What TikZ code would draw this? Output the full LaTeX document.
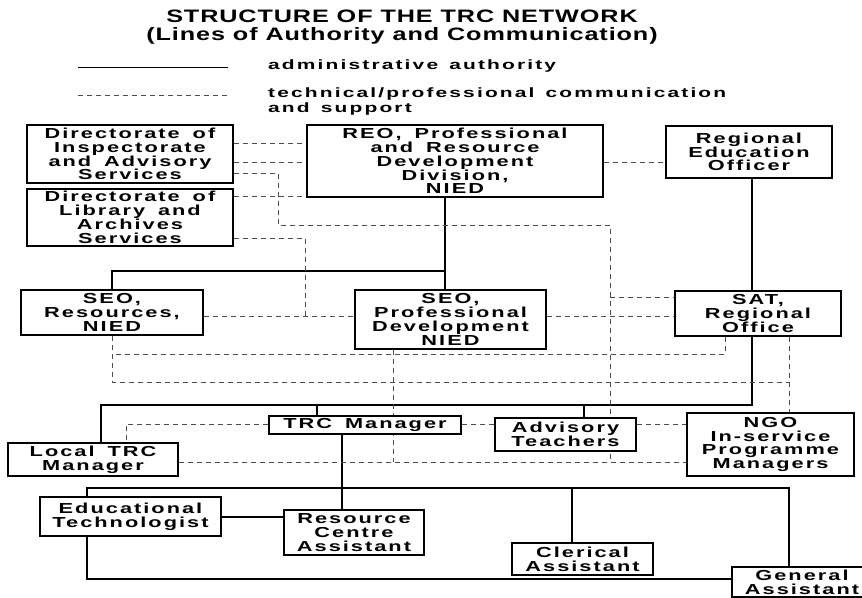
\documentclass[tikz,border=0pt]{standalone}
\usepackage{fontspec}
\newfontfamily\boxfont{Liberation Sans Bold}[FakeStretch=1.5,LetterSpace=14,WordSpace=1.6]
\newfontfamily\legfont{Liberation Sans Bold}[FakeStretch=1.55,LetterSpace=16,WordSpace=1.4]
\newfontfamily\titlefont{Liberation Sans Bold}[FakeStretch=1.4,LetterSpace=5]
\pgfdeclarelayer{bg}
\pgfsetlayers{bg,main}
\tikzset{
  box/.style={draw, line width=1.6pt, fill=white, inner sep=0pt, align=center,
    font=\boxfont\fontsize{14.5}{13.8}\selectfont},
  auth/.style={line width=1.7pt},
  comm/.style={line width=0.8pt, draw=black!70, dash pattern=on 5pt off 4pt},
  legtext/.style={inner sep=0pt, align=left, font=\legfont\fontsize{13.5}{15}\selectfont},
}
\begin{document}
\begin{tikzpicture}[x=1pt,y=-1pt]
\useasboundingbox (0,0) rectangle (862,597);
% title
\node[inner sep=0pt, align=center, font=\titlefont\fontsize{18}{18}\selectfont] (title) at (402,27)
  {STRUCTURE OF THE TRC NETWORK\\(Lines of Authority and Communication)};
% legend
\coordinate (l1a) at (78,67); \coordinate (l1b) at (228,67);
\coordinate (l2a) at (78,95); \coordinate (l2b) at (228,95);
\node[legtext, anchor=west] (leg1) at (268,66) {administrative authority};
\node[legtext, anchor=north west] (leg2) at (268,88) {technical/professional communication\\and support};
\draw[line width=0.9pt] (l1a) -- (l1b);
\draw[comm] (l2a) -- (l2b);
% boxes
\node[box, minimum width=206pt, minimum height=58pt] (dias) at (130,154) {Directorate of\\Inspectorate\\and Advisory\\Services};
\node[box, minimum width=206pt, minimum height=57pt] (dlas) at (130,217.5) {Directorate of\\Library and\\Archives\\Services};
\node[box, minimum width=296pt, minimum height=72pt] (reo) at (455,161) {REO, Professional\\and Resource\\Development\\Division,\\NIED};
\node[box, minimum width=166pt, minimum height=52pt] (reg) at (749,152) {Regional\\Education\\Officer};
\node[box, minimum width=182pt, minimum height=45pt] (seor) at (112,312.5) {SEO,\\Resources,\\NIED};
\node[box, minimum width=191pt, minimum height=59pt] (seopd) at (450.5,319.5) {SEO,\\Professional\\Development\\NIED};
\node[box, minimum width=166pt, minimum height=45pt] (sat) at (758,313.5) {SAT,\\Regional\\Office};
\node[box, minimum width=192pt, minimum height=18pt] (trc) at (365,425) {TRC Manager};
\node[box, minimum width=170pt, minimum height=33pt] (ltrc) at (93,459.5) {Local TRC\\Manager};
\node[box, minimum width=141pt, minimum height=33pt] (adv) at (565.5,434.5) {Advisory\\Teachers};
\node[box, minimum width=167pt, minimum height=63pt] (ngo) at (770.5,444.5) {NGO\\In-service\\Programme\\Managers};
\node[box, minimum width=181pt, minimum height=39pt] (edt) at (130.5,516.5) {Educational\\Technologist};
\node[box, minimum width=140pt, minimum height=45pt] (rca) at (354,532.5) {Resource\\Centre\\Assistant};
\node[box, minimum width=141pt, minimum height=32pt] (cler) at (582.5,559) {Clerical\\Assistant};
\node[box, minimum width=140pt, minimum height=30pt] (gen) at (802,582) {General\\Assistant};
% columns and rows
\coordinate (cA) at (445,0); \coordinate (cB) at (112,0); \coordinate (cC) at (752,0);
\coordinate (cD) at (101,0); \coordinate (cE) at (317,0); \coordinate (cF) at (584,0);
\coordinate (cG) at (342,0); \coordinate (cH) at (87,0); \coordinate (cI) at (572,0);
\coordinate (cJ) at (789,0); \coordinate (k278) at (278,0); \coordinate (k610) at (610,0);
\coordinate (k305) at (305,0); \coordinate (k725) at (725,0); \coordinate (k393) at (393,0);
\coordinate (k126) at (126,0);
\coordinate (r271) at (0,271); \coordinate (r405) at (0,405); \coordinate (r488) at (0,488);
\coordinate (r517) at (0,517); \coordinate (r579) at (0,579);
\coordinate (d143) at (0,143); \coordinate (d162) at (0,162); \coordinate (d173) at (0,173);
\coordinate (d225) at (0,225); \coordinate (d196) at (0,196); \coordinate (d238) at (0,238);
\coordinate (d316) at (0,316); \coordinate (d297) at (0,297); \coordinate (d354) at (0,354);
\coordinate (d382) at (0,382); \coordinate (d424) at (0,424); \coordinate (d462) at (0,462);
\begin{pgfonlayer}{bg}
% administrative authority
\draw[auth] (reo.south -| cA) -- (seopd.north -| cA);
\draw[auth] (cA |- r271) -| (seor.north -| cB);
\draw[auth] (reg.south -| cC) -- (sat.north -| cC);
\draw[auth] (sat.south -| cC) -- (cC |- r405) -| (ltrc.north -| cD);
\draw[auth] (cE |- r405) -- (trc.north -| cE);
\draw[auth] (cF |- r405) -- (adv.north -| cF);
\draw[auth] (trc.south -| cG) -- (rca.north -| cG);
\draw[auth] (edt.north -| cH) |- (cJ |- r488) -- (gen.north -| cJ);
\draw[auth] (cI |- r488) -- (cler.north -| cI);
\draw[auth] (edt.east |- r517) -- (rca.west |- r517);
\draw[auth] (edt.south -| cH) |- (gen.west |- r579);
% communication and support
\draw[comm] (dias.east |- d143) -- (reo.west |- d143);
\draw[comm] (dias.east |- d162) -- (reo.west |- d162);
\draw[comm] (dias.east |- d173) -| (k278 |- d225) -| (k610 |- d462);
\draw[comm] (dlas.east |- d196) -- (reo.west |- d196);
\draw[comm] (dlas.east |- d238) -| (k305 |- d316);
\draw[comm] (seor.east |- d316) -- (seopd.west |- d316);
\draw[comm] (seopd.east |- d316) -- (sat.west |- d316);
\draw[comm] (k610 |- d297) -- (sat.west |- d297);
\draw[comm] (reo.east |- d162) -- (reg.west |- d162);
\draw[comm] (sat.south -| k725) |- (cB |- d354);
\draw[comm] (seor.south -| cB) |- (cJ |- d382);
\draw[comm] (sat.south -| cJ) -- (ngo.north -| cJ);
\draw[comm] (seopd.south -| k393) -- (k393 |- d462);
\draw[comm] (trc.west |- d424) -| (ltrc.north -| k126);
\draw[comm] (trc.east |- d424) -- (adv.west |- d424);
\draw[comm] (adv.east |- d424) -- (ngo.west |- d424);
\draw[comm] (ltrc.east |- d462) -- (ngo.west |- d462);
\end{pgfonlayer}
\end{tikzpicture}
\end{document}
